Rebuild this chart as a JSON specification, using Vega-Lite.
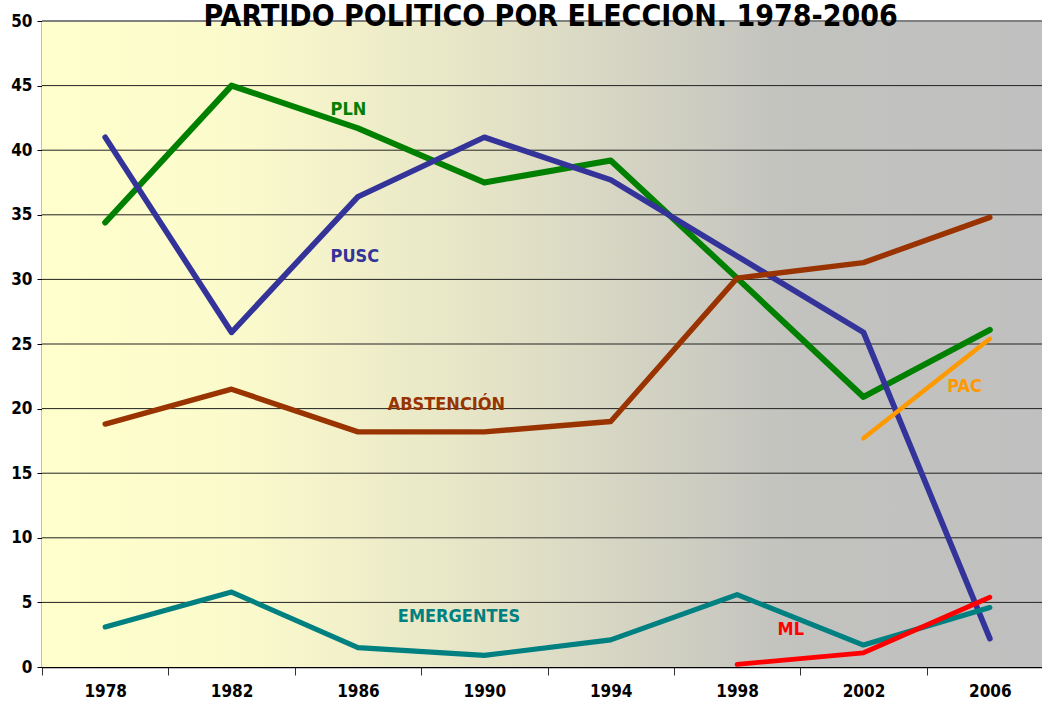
{
  "$schema": "https://vega.github.io/schema/vega-lite/v6.json",
  "width": 1000,
  "height": 646,
  "autosize": {"type": "none"},
  "padding": {"left": 42, "top": 21, "right": 0, "bottom": 52},
  "background": "white",
  "config": {
    "view": {"stroke": null},
    "font": "DejaVu Sans Condensed, Liberation Sans, sans-serif",
    "axis": {"labelFont": "DejaVu Sans Condensed, Liberation Sans, sans-serif", "labelFontWeight": "bold", "labelColor": "black"}
  },
  "datasets": {
    "series": [
      {"year": 1978, "party": "PLN", "value": 34.4},
      {"year": 1982, "party": "PLN", "value": 45.0},
      {"year": 1986, "party": "PLN", "value": 41.7},
      {"year": 1990, "party": "PLN", "value": 37.5},
      {"year": 1994, "party": "PLN", "value": 39.2},
      {"year": 1998, "party": "PLN", "value": 30.1},
      {"year": 2002, "party": "PLN", "value": 20.9},
      {"year": 2006, "party": "PLN", "value": 26.1},
      {"year": 1978, "party": "PUSC", "value": 41.0},
      {"year": 1982, "party": "PUSC", "value": 25.9},
      {"year": 1986, "party": "PUSC", "value": 36.4},
      {"year": 1990, "party": "PUSC", "value": 41.0},
      {"year": 1994, "party": "PUSC", "value": 37.7},
      {"year": 1998, "party": "PUSC", "value": 31.8},
      {"year": 2002, "party": "PUSC", "value": 25.9},
      {"year": 2006, "party": "PUSC", "value": 2.2},
      {"year": 1978, "party": "ABSTENCIÓN", "value": 18.8},
      {"year": 1982, "party": "ABSTENCIÓN", "value": 21.5},
      {"year": 1986, "party": "ABSTENCIÓN", "value": 18.2},
      {"year": 1990, "party": "ABSTENCIÓN", "value": 18.2},
      {"year": 1994, "party": "ABSTENCIÓN", "value": 19.0},
      {"year": 1998, "party": "ABSTENCIÓN", "value": 30.1},
      {"year": 2002, "party": "ABSTENCIÓN", "value": 31.3},
      {"year": 2006, "party": "ABSTENCIÓN", "value": 34.8},
      {"year": 1978, "party": "EMERGENTES", "value": 3.1},
      {"year": 1982, "party": "EMERGENTES", "value": 5.8},
      {"year": 1986, "party": "EMERGENTES", "value": 1.5},
      {"year": 1990, "party": "EMERGENTES", "value": 0.9},
      {"year": 1994, "party": "EMERGENTES", "value": 2.1},
      {"year": 1998, "party": "EMERGENTES", "value": 5.6},
      {"year": 2002, "party": "EMERGENTES", "value": 1.7},
      {"year": 2006, "party": "EMERGENTES", "value": 4.6},
      {"year": 2002, "party": "PAC", "value": 17.7},
      {"year": 2006, "party": "PAC", "value": 25.4},
      {"year": 1998, "party": "ML", "value": 0.2},
      {"year": 2002, "party": "ML", "value": 1.1},
      {"year": 2006, "party": "ML", "value": 5.4}
    ],
    "labels": [
      {"party": "PLN", "x": 1985.7, "y": 43.1},
      {"party": "PUSC", "x": 1985.9, "y": 31.7},
      {"party": "ABSTENCIÓN", "x": 1988.8, "y": 20.3},
      {"party": "EMERGENTES", "x": 1989.2, "y": 3.9},
      {"party": "ML", "x": 1999.7, "y": 2.9},
      {"party": "PAC", "x": 2005.2, "y": 21.7}
    ],
    "bg": [{"x0": 1976, "x1": 2007.65, "y0": 0, "y1": 50}],
    "title": [{"x": 1992.1, "y": 49.6, "t": "PARTIDO POLITICO POR ELECCION. 1978-2006"}]
  },
  "layer": [
    {
      "data": {"name": "bg"},
      "mark": {
        "type": "rect",
        "color": {
          "gradient": "linear", "x1": 0, "x2": 1, "y1": 0, "y2": 0,
          "stops": [
            {"offset": 0, "color": "#FFFFCC"},
            {"offset": 0.2, "color": "#FBFACC"},
            {"offset": 0.47, "color": "#E2E1C6"},
            {"offset": 0.75, "color": "#C2C2BF"},
            {"offset": 1, "color": "#C0C0C0"}
          ]
        }
      },
      "encoding": {
        "x": {"field": "x0", "type": "quantitative", "scale": {"domain": [1976, 2007.65], "nice": false, "zero": false},
              "axis": {"values": [1978, 1982, 1986, 1990, 1994, 1998, 2002, 2006], "format": "d", "title": null,
                       "grid": false, "tickOffset": -63.2, "labelOffset": 63.2, "tickSize": 8, "tickColor": "#333333",
                       "domainColor": "black", "domainWidth": 1.5, "labelFontSize": 17, "labelPadding": 8}},
        "x2": {"field": "x1"},
        "y": {"field": "y0", "type": "quantitative", "scale": {"domain": [0, 50], "nice": false},
              "axis": {"values": [0, 5, 10, 15, 20, 25, 30, 35, 40, 45, 50], "title": null, "grid": false,
                       "tickSize": 5, "tickColor": "black", "domainColor": "black", "domainWidth": 1.5,
                       "labelFontSize": 17, "labelPadding": 5}},
        "y2": {"field": "y1"}
      }
    },
    {
      "data": {"values": [{"v": 5}, {"v": 10}, {"v": 15}, {"v": 20}, {"v": 25}, {"v": 30}, {"v": 35}, {"v": 40}, {"v": 45}]},
      "mark": {"type": "rule", "color": "#222222", "strokeWidth": 1},
      "encoding": {"y": {"field": "v", "type": "quantitative"}}
    },
    {
      "data": {"values": [{"v": 50}]},
      "mark": {"type": "rule", "color": "#808080", "strokeWidth": 2},
      "encoding": {"y": {"field": "v", "type": "quantitative"}}
    },
    {
      "data": {"name": "series"},
      "mark": {"type": "line", "strokeCap": "round", "strokeJoin": "round"},
      "encoding": {
        "x": {"field": "year", "type": "quantitative"},
        "y": {"field": "value", "type": "quantitative"},
        "color": {"field": "party", "type": "nominal", "legend": null,
                  "scale": {"domain": ["PLN", "PUSC", "ABSTENCIÓN", "EMERGENTES", "ML", "PAC"],
                            "range": ["#008000", "#333399", "#993300", "#008080", "#FF0000", "#FF9900"]}},
        "strokeWidth": {"field": "party", "type": "nominal", "legend": null,
                        "scale": {"domain": ["PLN", "PUSC", "ABSTENCIÓN", "EMERGENTES", "ML", "PAC"],
                                  "range": [6, 4.5, 6, 6, 6.5, 5.5]}},
        "order": {"field": "year", "type": "quantitative"}
      }
    },
    {
      "data": {"name": "labels"},
      "mark": {"type": "text", "fontWeight": "bold", "fontSize": 18, "font": "DejaVu Sans Condensed, Liberation Sans, sans-serif", "align": "center", "baseline": "middle"},
      "encoding": {
        "x": {"field": "x", "type": "quantitative"},
        "y": {"field": "y", "type": "quantitative"},
        "text": {"field": "party"},
        "color": {"field": "party", "type": "nominal", "legend": null}
      }
    },
    {
      "data": {"name": "title"},
      "mark": {"type": "text", "fontWeight": "bold", "fontSize": 30, "font": "DejaVu Sans Condensed, Liberation Sans, sans-serif", "align": "center", "baseline": "alphabetic", "color": "black", "clip": false},
      "encoding": {
        "x": {"field": "x", "type": "quantitative"},
        "y": {"field": "y", "type": "quantitative"},
        "text": {"field": "t"}
      }
    }
  ]
}
